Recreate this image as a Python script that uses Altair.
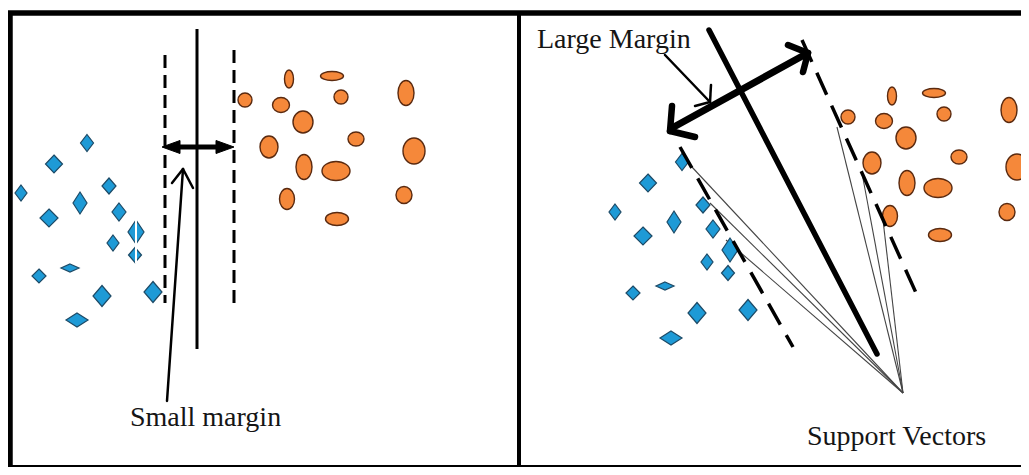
import altair as alt
import pandas as pd

# ---------------- data (diagram coordinates) ----------------
# Blue diamonds (class -1)
blue_left_x = [87, 54, 21, 109, 80, 49, 119, 136, 113, 135, 39, 70, 102, 153, 77]
blue_left_y = [143, 164, 193, 186, 203, 218, 212, 232, 243, 255, 276, 268, 296, 292, 320]
blue_right_x = [682, 648, 615, 703, 674, 643, 713, 730, 707, 728, 633, 665, 697, 748, 671]
blue_right_y = [162, 183, 212, 205, 222, 236, 229, 250, 262, 273, 293, 286, 313, 310, 338]
diamond_hw = [6.5, 8.5, 6, 7, 7, 9, 7, 8, 6, 6.5, 7, 9, 9, 9, 11]
diamond_hh = [8.5, 9, 8, 8, 11, 9, 9, 12, 8, 7.5, 7, 4, 10.5, 10.5, 7]

# Orange ellipses (class +1)
orange_left_x = [245, 289, 332, 341, 406, 281, 303, 356, 269, 414, 304, 336, 287, 404, 337]
orange_left_y = [100, 79, 76, 97, 93, 105, 122, 139, 147, 151, 167, 171, 199, 195, 219]
orange_right_x = [848, 892, 934, 944, 1009, 884, 906, 959, 872, 1017, 907, 938, 890, 1007, 940]
orange_right_y = [117, 96, 93, 114, 110, 121, 138, 157, 163, 167, 183, 188, 216, 212, 235]
ellipse_rx = [7, 4.5, 11.5, 7, 8, 8.5, 10, 8, 9, 11, 8, 14, 7.5, 8, 11.5]
ellipse_ry = [7, 9, 4.5, 7, 12.5, 7.5, 11, 7, 11, 13, 12.5, 9.5, 10.5, 8.5, 6.5]

# Line segments
frame_x1 = [8, 10];      frame_y1 = [13, 13];   frame_x2 = [1021, 10];   frame_y2 = [13, 475]
divider_x1 = [519];      divider_y1 = [13];     divider_x2 = [519];      divider_y2 = [475]
bottom_x1 = [10];        bottom_y1 = [466];     bottom_x2 = [1021];      bottom_y2 = [466]

small_dash_x1 = [165, 234]; small_dash_y1 = [55, 50]; small_dash_x2 = [165, 234]; small_dash_y2 = [303, 308]
hyper_left_x1 = [197]; hyper_left_y1 = [29]; hyper_left_x2 = [197]; hyper_left_y2 = [349]
hyper_right_x1 = [709]; hyper_right_y1 = [30]; hyper_right_x2 = [877]; hyper_right_y2 = [354]

small_arrow_x1 = [172]; small_arrow_y1 = [147]; small_arrow_x2 = [224]; small_arrow_y2 = [147]
head_x = [162, 234]; head_y = [147, 147]; head_dir = [1, -1]

pointer_x1 = [167, 183, 183, 665, 710, 710]
pointer_y1 = [401, 169, 169, 55, 102, 102]
pointer_x2 = [183, 172, 193, 710, 711, 695]
pointer_y2 = [169, 183, 188, 102, 85, 106]

large_shaft_x1 = [672]; large_shaft_y1 = [128]; large_shaft_x2 = [806]; large_shaft_y2 = [54]
large_head_x1 = [670, 670, 808, 808]
large_head_y1 = [131, 131, 53, 53]
large_head_x2 = [672, 695, 788, 803]
large_head_y2 = [106, 137, 45, 72]

sv_x1 = [903, 903, 903, 903, 903, 903]
sv_y1 = [393, 393, 393, 393, 393, 393]
sv_x2 = [691, 710, 726, 837, 862, 883]
sv_y2 = [166, 203, 240, 127, 173, 220]

big_dash_x1 = [680, 802]; big_dash_y1 = [147, 40]; big_dash_x2 = [793, 917]; big_dash_y2 = [347, 295]

stripe_x1 = [136]; stripe_y1 = [219]; stripe_x2 = [136]; stripe_y2 = [263]

labels = ["Small margin", "Large Margin", "Support Vectors"]
label_x = [130, 537, 807]
label_y = [426, 48, 445]

# ---------------- chart construction ----------------
XS = alt.Scale(domain=[8, 1021], nice=False, zero=False)
YS = alt.Scale(domain=[8, 467], nice=False, zero=False, reverse=True)


def seg_layer(x1, y1, x2, y2, width, color="black", dash=None, cap="butt"):
    df = pd.DataFrame({"x": x1, "y": y1, "x2": x2, "y2": y2})
    kw = dict(strokeWidth=width, color=color, strokeCap=cap)
    if dash:
        kw["strokeDash"] = dash
    return alt.Chart(df).mark_rule(**kw).encode(
        x=alt.X("x:Q", scale=XS, axis=None),
        y=alt.Y("y:Q", scale=YS, axis=None),
        x2="x2:Q",
        y2="y2:Q",
    )


def diamond_path(w, h):
    return f"M 0 {-h} L {w} 0 L 0 {h} L {-w} 0 Z"


def ellipse_path(rx, ry):
    k = 0.5523
    return (f"M {-rx} 0 C {-rx} {-k*ry} {-k*rx} {-ry} 0 {-ry} "
            f"C {k*rx} {-ry} {rx} {-k*ry} {rx} 0 "
            f"C {rx} {k*ry} {k*rx} {ry} 0 {ry} "
            f"C {-k*rx} {ry} {-rx} {k*ry} {-rx} 0 Z")


def point_layer(xs, ys, paths, fill, stroke, sw=1.2):
    df = pd.DataFrame({"x": xs, "y": ys, "path": paths})
    return alt.Chart(df).mark_point(
        filled=True, fill=fill, stroke=stroke, strokeWidth=sw, size=4, opacity=1
    ).encode(
        x=alt.X("x:Q", scale=XS, axis=None),
        y=alt.Y("y:Q", scale=YS, axis=None),
        shape=alt.Shape("path:N", scale=None),
    )


d_paths = [diamond_path(w, h) for w, h in zip(diamond_hw, diamond_hh)]
e_paths = [ellipse_path(a, b) for a, b in zip(ellipse_rx, ellipse_ry)]
tri_paths = [f"M 0 0 L {18*d} -6.5 L {18*d} 6.5 Z" for d in head_dir]

BLUE, BLUE_EDGE = "#1E9AD6", "#1d4a66"
ORANGE, ORANGE_EDGE = "#F5883A", "#5a2a10"

layers = [
    seg_layer(frame_x1, frame_y1, frame_x2, frame_y2, 5.5),
    seg_layer(divider_x1, divider_y1, divider_x2, divider_y2, 4),
    seg_layer(bottom_x1, bottom_y1, bottom_x2, bottom_y2, 2),
    seg_layer(sv_x1, sv_y1, sv_x2, sv_y2, 1.1, color="#444444"),
    point_layer(blue_left_x, blue_left_y, d_paths, BLUE, BLUE_EDGE),
    point_layer(blue_right_x, blue_right_y, d_paths, BLUE, BLUE_EDGE),
    point_layer(orange_left_x, orange_left_y, e_paths, ORANGE, ORANGE_EDGE, 1.4),
    point_layer(orange_right_x, orange_right_y, e_paths, ORANGE, ORANGE_EDGE, 1.4),
    seg_layer(stripe_x1, stripe_y1, stripe_x2, stripe_y2, 2, color="white"),
    seg_layer(small_dash_x1, small_dash_y1, small_dash_x2, small_dash_y2, 3, dash=[13, 7]),
    seg_layer(hyper_left_x1, hyper_left_y1, hyper_left_x2, hyper_left_y2, 3),
    seg_layer(hyper_right_x1, hyper_right_y1, hyper_right_x2, hyper_right_y2, 5.5, cap="round"),
    seg_layer(small_arrow_x1, small_arrow_y1, small_arrow_x2, small_arrow_y2, 5),
    point_layer(head_x, head_y, tri_paths, "black", "black", 1),
    seg_layer(pointer_x1, pointer_y1, pointer_x2, pointer_y2, 2.5, cap="round"),
    seg_layer(large_shaft_x1, large_shaft_y1, large_shaft_x2, large_shaft_y2, 7, cap="round"),
    seg_layer(large_head_x1, large_head_y1, large_head_x2, large_head_y2, 6.5, cap="round"),
    seg_layer(big_dash_x1, big_dash_y1, big_dash_x2, big_dash_y2, 3.5, dash=[24, 12]),
    alt.Chart(pd.DataFrame({"x": label_x, "y": label_y, "label": labels})).mark_text(
        font="Liberation Serif", fontSize=28, align="left", baseline="alphabetic", color="#151515"
    ).encode(
        x=alt.X("x:Q", scale=XS, axis=None),
        y=alt.Y("y:Q", scale=YS, axis=None),
        text="label:N",
    ),
]

chart = alt.layer(*layers).properties(
    width=1013, height=459, padding=0,
    autosize=alt.AutoSizeParams(type="none"),
).configure_view(stroke=None)

chart.save("out.html", embed_options={"renderer": "svg", "actions": False})
